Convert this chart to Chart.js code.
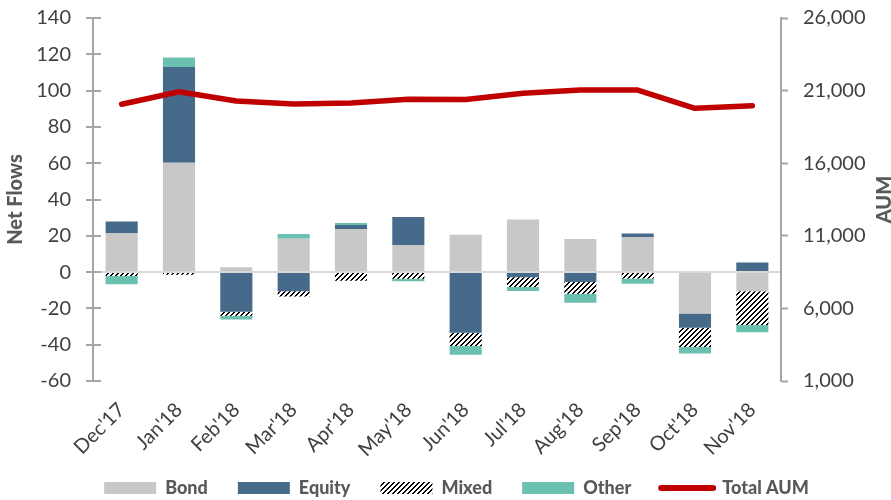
<!DOCTYPE html>
<html>
<head>
<meta charset="utf-8">
<script src="https://cdn.jsdelivr.net/npm/chart.js@4/dist/chart.umd.min.js"></script>
<style>
  html, body { margin: 0; padding: 0; background: #ffffff; }
  #wrap { width: 891px; height: 500px; position: relative; }
</style>
</head>
<body>
<div id="wrap"><canvas id="chart"></canvas></div>
<script>
// Monthly net flows by asset class, plus total assets under management
const months = ["Dec'17", "Jan'18", "Feb'18", "Mar'18", "Apr'18", "May'18",
                "Jun'18", "Jul'18", "Aug'18", "Sep'18", "Oct'18", "Nov'18"];
const bond   = [21.5, 60.2, 2.7, 18.4, 23.7, 14.9, 20.6, 29.0, 18.2, 19.3, -22.8, -10.5];
const equity = [6.4, 52.8, -21.9, -10.6, 2.2, 15.4, -33.4, -2.9, -5.5, 2.0, -7.9, 5.3];
const mixed  = [-2.2, -1.5, -2.2, -2.9, -4.8, -3.7, -7.3, -5.3, -6.4, -3.5, -10.5, -18.7];
const other  = [-4.5, 5.3, -2.0, 2.6, 1.1, -1.3, -4.8, -2.2, -5.0, -2.9, -3.7, -3.9];
const totalAum = [20060, 20920, 20280, 20080, 20150, 20400, 20380, 20810, 21040, 21040, 19780, 19960];

const flowTicks = { min: -60, max: 140, step: 20 };
const aumTicks  = { min: 1000, max: 26000, step: 5000 };

const FONT = 'Lato';
const HEAVY = 900;
const TICK_COLOR = '#404040';
const TITLE_COLOR = '#595959';
const AXIS_COLOR = '#a6a6a6';

// Upward diagonal hatch used for the "Mixed" series
function makeHatch() {
  const size = 5;
  const c = document.createElement('canvas');
  c.width = size; c.height = size;
  const g = c.getContext('2d');
  g.fillStyle = '#ffffff';
  g.fillRect(0, 0, size, size);
  g.fillStyle = '#000000';
  for (let x = 0; x < size; x++) {
    for (let y = 0; y < size; y++) {
      const k = (x + y) % size;
      if (k === 0 || k === 1) g.fillRect(x, y, 1, 1);
    }
  }
  return document.getElementById('chart').getContext('2d').createPattern(c, 'repeat');
}
const hatch = makeHatch();

// Legend offset and short inner tick marks on the left axis
const LEGEND_DX = 11, LEGEND_DY = 7;
const extras = {
  id: 'extras',
  afterLayout(chart) {
    const lg = chart.legend;
    if (lg) {
      lg.left += LEGEND_DX; lg.right += LEGEND_DX;
      lg.top += LEGEND_DY; lg.bottom += LEGEND_DY;
    }
  },
  afterDraw(chart) {
    const ctx = chart.ctx;
    const y = chart.scales.y;
    const left = chart.chartArea.left;
    ctx.save();
    ctx.strokeStyle = AXIS_COLOR;
    ctx.lineWidth = 2;
    y.ticks.forEach((t) => {
      const py = Math.round(y.getPixelForValue(t.value));
      ctx.beginPath();
      ctx.moveTo(left, py);
      ctx.lineTo(left + 8, py);
      ctx.stroke();
    });
    // Secondary axis title, reading bottom to top
    const area = chart.chartArea;
    ctx.translate(891, (area.top + area.bottom) / 2);
    ctx.rotate(-Math.PI / 2);
    ctx.fillStyle = TITLE_COLOR;
    ctx.font = HEAVY + ' 20px ' + FONT;
    ctx.textAlign = 'center';
    ctx.textBaseline = 'alphabetic';
    ctx.fillText('AUM', 0, 0);
    ctx.restore();
  }
};

const barBase = { type: 'bar', yAxisID: 'y', order: 1, borderWidth: 0,
                  barPercentage: 0.56, categoryPercentage: 1.0 };

// Vertical axes: fixed width, no extra label padding above/below the plot
function fixVertical(width) {
  return (s) => { s.width = width; s.paddingTop = 0; s.paddingBottom = 0; };
}

new Chart(document.getElementById('chart'), {
  data: {
    labels: months,
    datasets: [
      Object.assign({ label: 'Bond', data: bond, backgroundColor: '#c8c8c8' }, barBase),
      Object.assign({ label: 'Equity', data: equity, backgroundColor: '#466a89' }, barBase),
      Object.assign({ label: 'Mixed', data: mixed, backgroundColor: hatch }, barBase),
      Object.assign({ label: 'Other', data: other, backgroundColor: '#6cc0b0' }, barBase),
      {
        type: 'line', label: 'Total AUM', data: totalAum, yAxisID: 'y1', order: 0,
        borderColor: '#c00000', backgroundColor: '#c00000', borderWidth: 5.5,
        pointRadius: 0, tension: 0, borderJoinStyle: 'round', borderCapStyle: 'round',
        fill: false
      }
    ]
  },
  options: {
    responsive: true,
    maintainAspectRatio: false,
    animation: false,
    devicePixelRatio: 1,
    layout: { padding: { top: 18, left: 0, right: 0, bottom: 0 } },
    plugins: {
      tooltip: { enabled: false },
      legend: {
        position: 'bottom',
        labels: {
          usePointStyle: true,
          pointStyleWidth: 52,
          boxHeight: 12,
          padding: 30,
          color: TITLE_COLOR,
          font: { family: FONT, size: 18, weight: HEAVY },
          sort: (a, b) => a.datasetIndex - b.datasetIndex,
          generateLabels(chart) {
            const items = Chart.defaults.plugins.legend.labels.generateLabels(chart);
            items.forEach((it) => {
              const ds = chart.data.datasets[it.datasetIndex];
              if (ds.type === 'line') {
                it.pointStyle = 'line';
                it.strokeStyle = '#c00000';
                it.lineWidth = 6;
                it.lineCap = 'round';
              } else {
                it.pointStyle = 'rect';
                it.fillStyle = ds.backgroundColor;
                it.lineWidth = 0;
                it.strokeStyle = 'rgba(0,0,0,0)';
              }
            });
            return items;
          }
        }
      }
    },
    scales: {
      x: {
        stacked: true,
        grid: { display: false, drawTicks: false },
        border: { display: false },
        ticks: {
          autoSkip: false, minRotation: 45, maxRotation: 45, padding: 17,
          color: TICK_COLOR, font: { family: FONT, size: 20 }
        },
        afterFit(s) {
          const lg = s.chart.legend;
          s.height = 500 - 381 - (lg ? lg.height : 0);
          // let the slanted month labels run below the axis box
          s._computeLabelArea = () => undefined;
        }
      },
      y: {
        position: 'left',
        stacked: true,
        min: flowTicks.min, max: flowTicks.max,
        ticks: { stepSize: flowTicks.step, padding: 15, color: TICK_COLOR,
                 font: { family: FONT, size: 20 } },
        grid: {
          drawOnChartArea: true,
          color: (c) => (c.tick && c.tick.value === 0 ? '#d9d9d9' : 'rgba(0,0,0,0)'),
          lineWidth: 2,
          tickColor: AXIS_COLOR, tickWidth: 2, tickLength: 7
        },
        border: { color: AXIS_COLOR, width: 2 },
        title: { display: true, text: 'Net Flows', color: TITLE_COLOR,
                 font: { family: FONT, size: 20, weight: HEAVY } },
        afterFit: fixVertical(93)
      },
      y1: {
        position: 'right',
        stacked: false,
        min: aumTicks.min, max: aumTicks.max,
        ticks: { stepSize: aumTicks.step, padding: 15, color: TICK_COLOR,
                 font: { family: FONT, size: 20 },
                 callback: (v) => v.toLocaleString('en-US') },
        grid: { drawOnChartArea: false, tickColor: AXIS_COLOR, tickWidth: 2, tickLength: 7 },
        border: { color: AXIS_COLOR, width: 2 },
        afterFit: fixVertical(110)
      }
    }
  },
  plugins: [extras]
});
</script>
</body>
</html>
